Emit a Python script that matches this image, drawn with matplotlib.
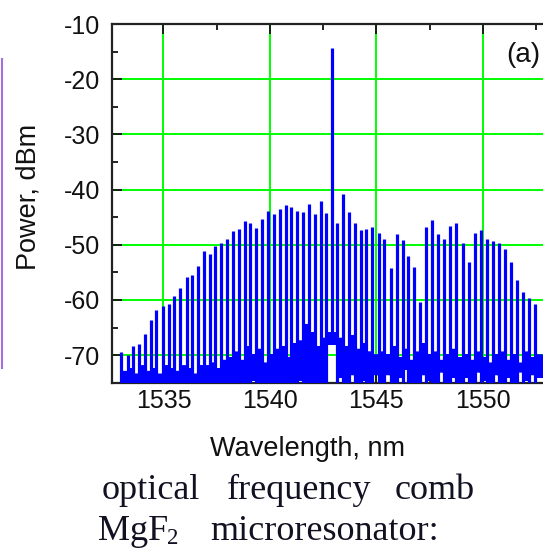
import matplotlib
matplotlib.use("Agg")
import matplotlib.pyplot as plt
from matplotlib.lines import Line2D
from matplotlib.ticker import MultipleLocator
import numpy as np

plt.rcParams['font.family'] = ['Liberation Sans', 'DejaVu Sans']
plt.rcParams['axes.unicode_minus'] = False

# ---- data ----
wavelength_nm = [
    1533.02, 1533.32, 1533.57, 1533.83, 1534.12, 1534.41, 1534.66, 1534.96, 1535.24, 1535.51,
    1535.79, 1536.09, 1536.34, 1536.62, 1536.89, 1537.17, 1537.43, 1537.72, 1537.98, 1538.25,
    1538.53, 1538.82, 1539.08, 1539.36, 1539.64, 1539.91, 1540.19, 1540.46, 1540.74, 1541.01,
    1541.29, 1541.56, 1541.84, 1542.11, 1542.39, 1542.65, 1542.90, 1543.17, 1543.45, 1543.72,
    1544.00, 1544.27, 1544.53, 1544.78, 1545.11, 1545.38, 1545.68, 1545.96, 1546.24, 1546.50,
    1546.79, 1547.07, 1547.34, 1547.62, 1547.91, 1548.18, 1548.46, 1548.75, 1549.06, 1549.34,
    1549.62, 1549.91, 1550.19, 1550.47, 1550.75, 1551.05, 1551.33, 1551.61, 1551.91, 1552.19,
    1552.47,
]
peak_dbm = [
    -69.5, -69.9, -68.3, -68.0, -66.1, -63.7, -61.9, -61.1, -60.7, -59.3, -57.8, -55.9, -55.4, -53.9,
    -51.1, -51.7, -50.2, -49.6, -48.9, -47.5, -47.2, -45.7, -46.1, -47.0, -45.3, -43.9, -44.5, -43.5, -42.8,
    -43.1, -43.9, -44.1, -42.7, -44.5, -42.0, -44.2, -14.4, -46.1, -40.8, -44.1, -46.0, -47.4, -47.2, -46.7,
    -47.8, -48.9, -54.2, -48.1, -49.2, -52.1, -54.1, -60.4, -46.7, -45.6, -48.1, -48.9, -46.6, -46.1,
    -49.6, -53.2, -47.8, -47.4, -48.9, -49.3, -49.6, -50.8, -53.2, -56.3, -58.6, -59.6, -60.8,
]
# base of each comb line (pump line does not reach the floor)
line_base_dbm = [-76.0] * 36 + [-67.5] + [-76.0] * 34
# noise band after each comb line: upper and lower edge
noise_top_dbm = [
    -73.0, -72.5, -73.5, -72.0, -73.0, -72.5, -73.5, -72.0, -72.5, -73.0, -72.0, -72.5, -73.5, -72.0,
    -72.0, -71.5, -72.5, -71.0, -70.5, -69.5, -71.0, -68.5, -70.0, -69.0, -71.5, -70.0, -69.0, -68.5, -70.5,
    -68.0, -67.5, -64.5, -66.0, -68.5, -67.0, -66.0, -66.0,
    -67.0, -68.5, -66.5, -69.0, -68.0, -69.5, -70.0,
    -69.5, -70.0, -68.5, -70.5, -69.0, -71.0, -69.5, -68.0, -70.0, -69.5, -71.0, -70.0, -69.0, -70.5,
    -70.0, -71.0, -69.5, -70.5, -71.5, -70.0, -69.5, -71.0, -70.0, -71.5, -69.5, -70.5, -70.0,
]
noise_bottom_dbm = [
    -76.0, -76.0, -76.0, -76.0, -76.0, -76.0, -76.0, -76.0, -76.0, -76.0, -76.0, -76.0, -76.0, -76.0,
    -76.0, -76.0, -76.0, -76.0, -76.0, -76.0, -76.0, -76.0, -74.5, -76.0, -76.0, -76.0, -76.0, -76.0, -76.0,
    -76.0, -74.5, -76.0, -76.0, -75.0, -76.0, -68.0, -68.0,
    -74.0, -75.0, -73.5, -76.0, -74.5, -76.0, -73.5,
    -75.0, -73.5, -76.0, -74.0, -72.5, -75.0, -76.0, -73.5, -74.5, -76.0, -73.0, -75.0, -74.0, -76.0,
    -74.0, -75.5, -73.0, -74.5, -76.0, -73.5, -75.0, -74.0, -76.0, -73.0, -74.5, -73.5, -74.0,
]
x_ticks = [1535, 1540, 1545, 1550]
y_ticks = [-70, -60, -50, -40, -30, -20, -10]
X_MIN, X_MAX = 1532.566, 1552.833
Y_MIN, Y_MAX = -75, -10

W, H = 543, 549
fig = plt.figure(figsize=(W / 100, H / 100), dpi=100)
ax_l, ax_r, ax_t, ax_b = 111.7, 543.0, 24.0, 382.7
ax = fig.add_axes([ax_l / W, 1 - ax_b / H, (ax_r - ax_l) / W, (ax_b - ax_t) / H])

blue = '#0000ff'
# noise floor drawn as a jagged trace between the read edges
fracs = [0.08, 0.16, 0.24, 0.32, 0.40, 0.48, 0.56, 0.64, 0.72, 0.80, 0.88, 0.95]
nx, ny = [], []
n = len(wavelength_nm)
for i in range(n):
    x0 = wavelength_nm[i]
    x1 = wavelength_nm[i + 1] if i + 1 < n else X_MAX
    for k, f in enumerate(fracs):
        nx.append(x0 + f * (x1 - x0))
        ny.append(noise_top_dbm[i] if k % 2 == 0 else noise_bottom_dbm[i])
    nx.append(np.nan); ny.append(np.nan)
ax.plot(np.array(nx, dtype=float), np.array(ny, dtype=float), color=blue, lw=1.3, zorder=3)

ax.vlines(wavelength_nm, line_base_dbm, peak_dbm, color=blue, lw=2.3, zorder=4)

ax.set_xlim(X_MIN, X_MAX)
ax.set_ylim(Y_MIN, Y_MAX)
ax.set_xticks(x_ticks)
ax.set_yticks(y_ticks)
ax.xaxis.set_minor_locator(MultipleLocator(2.5))
ax.yaxis.set_minor_locator(MultipleLocator(5))
ax.grid(True, which='major', color='#00ff00', lw=1.4, zorder=1)
ax.set_axisbelow(True)
ax.tick_params(axis='both', which='major', direction='in', length=7, width=1.3,
               labelsize=18, top=True, right=False, colors='#111111')
ax.tick_params(axis='x', which='major', pad=4.5)
ax.tick_params(axis='y', which='major', pad=8)
ax.tick_params(axis='both', which='minor', direction='in', length=4, width=1.3,
               top=True, right=False, colors='#111111')
for s in ['left', 'bottom', 'top']:
    ax.spines[s].set_linewidth(1.6)
    ax.spines[s].set_color('#222222')
ax.spines['right'].set_visible(False)

fig.text(29 / W, 1 - 197 / H, 'Power, dBm', rotation=90, ha='center', va='center',
         fontsize=19.5, color='#111111')
fig.text(307.5 / W, 1 - 456 / H, 'Wavelength, nm', ha='center', va='baseline',
         fontsize=19.5, color='#111111')
fig.text(540 / W, 1 - 54.5 / H, '(a)', ha='right', va='center', fontsize=20, color='#111111')

serif = ['Liberation Serif', 'DejaVu Serif']
for word, x in [('optical', 101.7), ('frequency', 226.7), ('comb', 395.0)]:
    fig.text(x / W, 1 - 499.3 / H, word, family=serif, fontsize=26, ha='left',
             va='baseline', color='#111122')
fig.text(98.3 / W, 1 - 540 / H, 'MgF', family=serif, fontsize=26, ha='left',
         va='baseline', color='#111122')
fig.text(167.5 / W, 1 - 543.5 / H, '2', family=serif, fontsize=16.5, ha='left',
         va='baseline', color='#111122')
fig.text(210 / W, 1 - 540 / H, 'microresonator:', family=serif, fontsize=26, ha='left',
         va='baseline', color='#111122')

fig.add_artist(Line2D([2 / W, 2 / W], [1 - 59 / H, 1 - 368 / H], color='#a070e0',
                      lw=1.5, transform=fig.transFigure))

fig.savefig('out.png', dpi=100)
